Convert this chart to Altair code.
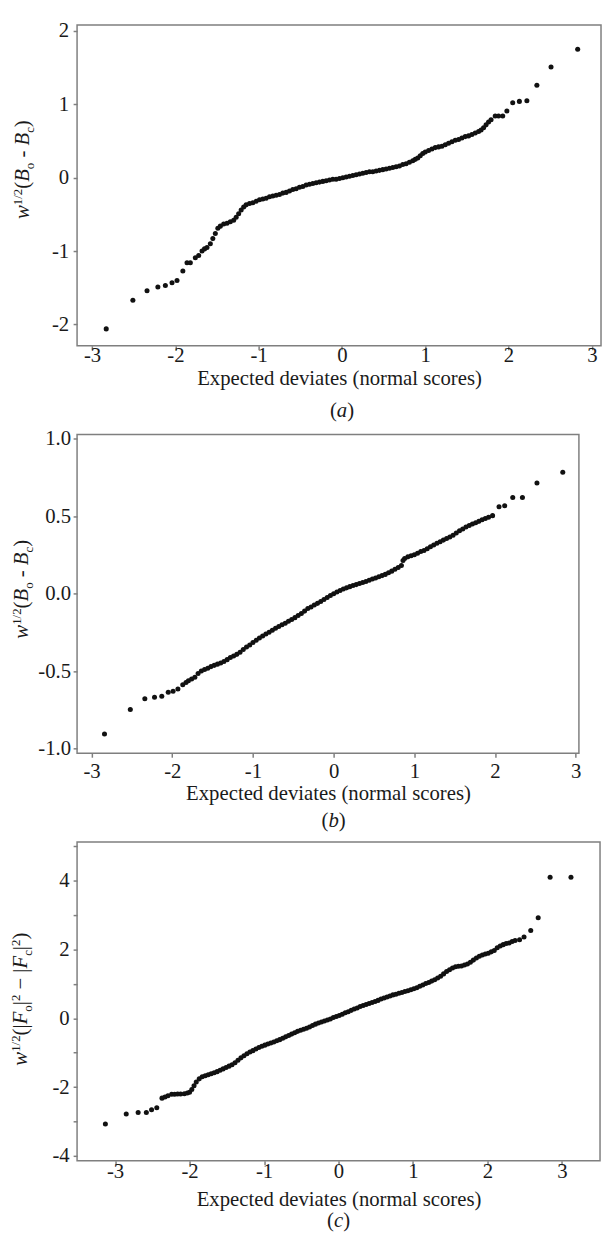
import altair as alt
import pandas as pd

FONT = "Liberation Serif"

# ---------------- data ----------------
A_X = [-2.83, -2.51, -2.34, -2.21, -2.12, -2.04, -1.98, -1.91, -1.86, -1.82,
       -1.76, -1.72, -1.68, -1.65, -1.62, -1.58, -1.55, -1.52, -1.49, -1.46,
       -1.42, -1.38, -1.34, -1.30, -1.27, -1.24, -1.21, -1.18, -1.15, -1.11,
       -1.07, -1.03, -0.99, -0.95, -0.91, -0.87, -0.83, -0.79, -0.75, -0.71,
       -0.67, -0.63, -0.59, -0.55, -0.51, -0.47, -0.43, -0.39, -0.35, -0.31,
       -0.27, -0.23, -0.19, -0.15, -0.11, -0.07, -0.03, 0.01, 0.05, 0.09,
       0.13, 0.17, 0.21, 0.25, 0.29, 0.33, 0.37, 0.41, 0.45, 0.49,
       0.53, 0.57, 0.61, 0.65, 0.69, 0.73, 0.77, 0.81, 0.85, 0.88,
       0.91, 0.94, 0.97, 1.00, 1.04, 1.08, 1.12, 1.16, 1.20, 1.24,
       1.28, 1.32, 1.36, 1.40, 1.44, 1.48, 1.52, 1.56, 1.60, 1.64,
       1.67, 1.70, 1.73, 1.76, 1.79, 1.84, 1.88, 1.93, 1.98, 2.05,
       2.13, 2.22, 2.34, 2.51, 2.83]
A_Y = [-2.06, -1.67, -1.54, -1.49, -1.47, -1.43, -1.40, -1.27, -1.16, -1.16,
       -1.09, -1.06, -1.00, -0.97, -0.95, -0.90, -0.83, -0.76, -0.69, -0.66,
       -0.63, -0.62, -0.60, -0.58, -0.54, -0.49, -0.44, -0.40, -0.37, -0.35,
       -0.34, -0.32, -0.30, -0.29, -0.28, -0.26, -0.25, -0.24, -0.23, -0.21,
       -0.20, -0.18, -0.16, -0.15, -0.13, -0.12, -0.10, -0.09, -0.08, -0.07,
       -0.06, -0.05, -0.04, -0.03, -0.02, -0.02, -0.01, 0.00, 0.01, 0.02,
       0.03, 0.04, 0.05, 0.06, 0.07, 0.08, 0.08, 0.09, 0.10, 0.11,
       0.12, 0.13, 0.14, 0.15, 0.16, 0.18, 0.19, 0.21, 0.23, 0.25,
       0.27, 0.30, 0.33, 0.35, 0.37, 0.39, 0.41, 0.42, 0.43, 0.45,
       0.47, 0.49, 0.51, 0.52, 0.54, 0.56, 0.57, 0.59, 0.61, 0.63,
       0.65, 0.68, 0.72, 0.76, 0.79, 0.84, 0.84, 0.84, 0.91, 1.02,
       1.04, 1.05, 1.26, 1.51, 1.75]

B_X = [-2.84, -2.52, -2.34, -2.22, -2.13, -2.05, -1.99, -1.93, -1.87, -1.83,
       -1.80, -1.76, -1.72, -1.68, -1.64, -1.60, -1.56, -1.52, -1.48, -1.44,
       -1.40, -1.36, -1.32, -1.28, -1.24, -1.20, -1.16, -1.12, -1.08, -1.04,
       -1.00, -0.96, -0.92, -0.88, -0.84, -0.80, -0.76, -0.72, -0.68, -0.64,
       -0.60, -0.56, -0.52, -0.48, -0.44, -0.40, -0.36, -0.32, -0.28, -0.24,
       -0.20, -0.16, -0.12, -0.08, -0.04, 0.00, 0.04, 0.08, 0.12, 0.16,
       0.20, 0.24, 0.28, 0.32, 0.36, 0.40, 0.44, 0.48, 0.52, 0.56,
       0.60, 0.64, 0.68, 0.72, 0.76, 0.80, 0.84, 0.86, 0.88, 0.92,
       0.96, 1.00, 1.04, 1.08, 1.12, 1.16, 1.20, 1.24, 1.28, 1.32,
       1.36, 1.40, 1.44, 1.48, 1.52, 1.56, 1.60, 1.64, 1.68, 1.72,
       1.76, 1.80, 1.84, 1.88, 1.92, 1.97, 2.05, 2.12, 2.22, 2.34,
       2.52, 2.84]
B_Y = [-0.905, -0.746, -0.678, -0.667, -0.661, -0.636, -0.629, -0.614, -0.587, -0.572,
       -0.561, -0.550, -0.538, -0.515, -0.498, -0.488, -0.481, -0.470, -0.462, -0.454,
       -0.446, -0.437, -0.425, -0.411, -0.401, -0.391, -0.378, -0.360, -0.343, -0.330,
       -0.314, -0.300, -0.285, -0.272, -0.260, -0.248, -0.236, -0.222, -0.211, -0.200,
       -0.190, -0.178, -0.166, -0.154, -0.140, -0.128, -0.112, -0.095, -0.085, -0.073,
       -0.062, -0.050, -0.037, -0.024, -0.011, 0.000, 0.012, 0.021, 0.030, 0.038,
       0.046, 0.053, 0.059, 0.066, 0.072, 0.079, 0.087, 0.095, 0.102, 0.110,
       0.117, 0.125, 0.135, 0.146, 0.158, 0.170, 0.182, 0.215, 0.228, 0.238,
       0.245, 0.252, 0.262, 0.272, 0.279, 0.290, 0.303, 0.314, 0.326, 0.336,
       0.346, 0.356, 0.366, 0.378, 0.392, 0.406, 0.418, 0.430, 0.441, 0.450,
       0.458, 0.467, 0.477, 0.485, 0.494, 0.504, 0.561, 0.568, 0.621, 0.621,
       0.714, 0.784]

C_X = [-3.13, -2.85, -2.69, -2.58, -2.51, -2.44, -2.37, -2.33, -2.29, -2.24,
       -2.20, -2.16, -2.12, -2.07, -2.03, -2.00, -1.97, -1.94, -1.91, -1.87,
       -1.83, -1.79, -1.75, -1.71, -1.67, -1.63, -1.59, -1.55, -1.51, -1.47,
       -1.43, -1.39, -1.35, -1.31, -1.27, -1.23, -1.19, -1.15, -1.11, -1.07,
       -1.03, -0.99, -0.95, -0.91, -0.87, -0.83, -0.79, -0.75, -0.71, -0.67,
       -0.63, -0.59, -0.55, -0.51, -0.47, -0.43, -0.39, -0.35, -0.31, -0.27,
       -0.23, -0.19, -0.15, -0.11, -0.07, -0.03, 0.01, 0.05, 0.09, 0.13,
       0.17, 0.21, 0.25, 0.29, 0.33, 0.37, 0.41, 0.45, 0.49, 0.53,
       0.57, 0.61, 0.65, 0.69, 0.73, 0.77, 0.81, 0.85, 0.89, 0.93,
       0.97, 1.01, 1.05, 1.09, 1.13, 1.17, 1.21, 1.25, 1.29, 1.33,
       1.37, 1.41, 1.45, 1.49, 1.53, 1.57, 1.61, 1.65, 1.69, 1.73,
       1.77, 1.81, 1.85, 1.89, 1.93, 1.97, 2.01, 2.05, 2.09, 2.13,
       2.17, 2.21, 2.25, 2.29, 2.33, 2.37, 2.43, 2.49, 2.58, 2.68,
       2.84, 3.12]
C_Y = [-3.07, -2.78, -2.74, -2.74, -2.66, -2.60, -2.32, -2.29, -2.25, -2.21,
       -2.21, -2.20, -2.20, -2.19, -2.17, -2.15, -2.07, -1.96, -1.85, -1.76,
       -1.70, -1.67, -1.64, -1.61, -1.58, -1.55, -1.51, -1.47, -1.43, -1.39,
       -1.35, -1.29, -1.22, -1.15, -1.09, -1.03, -0.98, -0.94, -0.89, -0.85,
       -0.81, -0.78, -0.75, -0.72, -0.69, -0.65, -0.62, -0.58, -0.54, -0.50,
       -0.46, -0.42, -0.38, -0.35, -0.32, -0.29, -0.25, -0.21, -0.17, -0.14,
       -0.11, -0.08, -0.05, -0.02, 0.02, 0.05, 0.08, 0.12, 0.16, 0.19,
       0.23, 0.27, 0.30, 0.34, 0.37, 0.40, 0.43, 0.46, 0.49, 0.52,
       0.56, 0.59, 0.62, 0.65, 0.68, 0.70, 0.73, 0.75, 0.78, 0.80,
       0.83, 0.86, 0.89, 0.93, 0.97, 1.01, 1.04, 1.08, 1.12, 1.17,
       1.22, 1.29, 1.36, 1.41, 1.46, 1.50, 1.51, 1.52, 1.55, 1.58,
       1.63, 1.69, 1.75, 1.80, 1.84, 1.87, 1.89, 1.93, 1.97, 2.05,
       2.10, 2.14, 2.17, 2.19, 2.23, 2.26, 2.28, 2.36, 2.55, 2.92,
       4.10, 4.10]

X_TICKS = [-3, -2, -1, 0, 1, 2, 3]
A_YTICKS = [-2, -1, 0, 1, 2]
B_YTICKS = [-1.0, -0.5, 0.0, 0.5, 1.0]
C_YTICKS = [-4, -3, -2, -1, 0, 1, 2, 3, 4, 5]
X_TITLE = "Expected deviates (normal scores)"

# y-axis titles as (text, italic, kind) pieces
YT_B = [("w", True, "n"), ("1/2", False, "sup"), ("(", False, "n"), ("B", True, "n"),
        ("o", False, "sub"), (" - ", False, "n"), ("B", True, "n"), ("c", False, "sub"),
        (")", False, "n")]
YT_F = [("w", True, "n"), ("1/2", False, "sup"), ("(|", False, "n"), ("F", True, "n"),
        ("o", False, "sub"), ("|", False, "n"), ("2", False, "sup"), (" \u2212 |", False, "n"),
        ("F", True, "n"), ("c", False, "sub"), ("|", False, "n"), ("2", False, "sup"),
        (")", False, "n")]

# ---------------- text helpers (Times metrics, per 1000 em) ----------------
REG = {"(": 333, ")": 333, "|": 200, " ": 250, "-": 333, "\u2212": 564, "1": 500,
       "2": 500, "/": 278, "o": 500, "c": 444}
ITA = {"w": 667, "B": 611, "F": 611, "a": 500, "b": 500, "c": 444}
SUP_SCALE = 0.62
ONE = pd.DataFrame({"k": [0]})
TXT = "#1a1a1a"
HYPHEN = "replace(datum.label, '\u2212', '-')"


def width_of(text, italic, size):
    table = ITA if italic else REG
    return sum(table.get(ch, 500) for ch in text) / 1000.0 * size


def piece_mark(text, italic, size, angle=0, dx=0):
    kw = dict(text=text, fontSize=size, font=FONT, align="left",
              baseline="alphabetic", color=TXT)
    if italic:
        kw["fontStyle"] = "italic"
    if angle:
        kw["angle"] = angle
    if dx:
        kw["dx"] = dx
    return alt.Chart(ONE).mark_text(**kw)


def rotated_title(pieces, base_x, center_y, size):
    sizes, widths = [], []
    for t, it, kind in pieces:
        s = size * (SUP_SCALE if kind != "n" else 1.0)
        sizes.append(s)
        widths.append(width_of(t, it, s))
    total = sum(widths)
    pos = center_y + total / 2.0
    layers = []
    for (t, it, kind), s, w in zip(pieces, sizes, widths):
        lead = len(t) - len(t.lstrip(" "))
        shift = {"n": 0.0, "sup": 0.36 * size, "sub": -0.22 * size}[kind]
        y = pos - lead * 0.25 * s
        layers.append(piece_mark(t.strip(), it, s, angle=270)
                      .encode(x=alt.value(base_x - shift), y=alt.value(y)))
        pos -= w
    return layers


def panel_label(letter, y_px, size):
    pieces = [("(", False), (letter, True), (")", False)]
    widths = [width_of(t, it, size) for t, it in pieces]
    start = -sum(widths) / 2.0
    layers = []
    for (t, it), w in zip(pieces, widths):
        layers.append(piece_mark(t, it, size, dx=start)
                      .encode(x=alt.datum(0), y=alt.value(y_px)))
        start += w
    return layers


def panel(xs, ys, xdom, ydom, w, h, yticks, yfmt, ylabexpr, title_pieces,
          tbase_x, tcenter_y, letter, letter_y, xlab_off, xtitle_y, ylabpad,
          anchor=None):
    df = pd.DataFrame({"x": xs, "y": ys})
    pts = alt.Chart(df).mark_circle(size=26, color="#111111", opacity=1).encode(
        x=alt.X("x:Q", scale=alt.Scale(domain=xdom, nice=False, zero=False),
                axis=alt.Axis(values=X_TICKS, format="d", labelExpr=HYPHEN,
                              title=X_TITLE, titleY=xtitle_y,
                              titleBaseline="alphabetic", labelBaseline="alphabetic",
                              labelPadding=xlab_off - 4)),
        y=alt.Y("y:Q", scale=alt.Scale(domain=ydom, nice=False, zero=False),
                axis=alt.Axis(values=yticks, format=yfmt, labelExpr=ylabexpr,
                              title=None, labelPadding=ylabpad)),
    )
    layers = [pts]
    layers += rotated_title(title_pieces, tbase_x, tcenter_y, 21)
    layers += panel_label(letter, letter_y, 21)
    if anchor is not None:
        # invisible box fixing the top-left extent of the whole figure
        ax, ay = anchor
        layers.append(alt.Chart(ONE).mark_rect(opacity=0).encode(
            x=alt.value(ax), x2=alt.value(ax + 1), y=alt.value(ay), y2=alt.value(ay + 1)))
    return alt.layer(*layers).properties(width=w, height=h)


LEFT = 77.0  # common left edge of the three frames
TOP = 16.0   # top edge of the first frame

pa = panel(A_X, A_Y, [-3.18, 3.11], [-2.29, 2.08], 531, 325, A_YTICKS, "d", HYPHEN,
           YT_B, 28.3 - LEFT, 146.5, "a", 325 + 72.3, 16.0, 39.3, 4.5,
           anchor=(8 - LEFT, 8 - TOP))
pb = panel(B_X, B_Y, [-3.18, 3.04], [-1.029, 1.027], 508.6, 323, B_YTICKS, ".1f", HYPHEN,
           YT_B, 27.3 - LEFT, 156.8, "b", 323 + 74.7, 25.0, 46.7, 2.5)
pc = panel(C_X, C_Y, [-3.51, 3.51], [-4.14, 5.12], 530, 323, C_YTICKS, "d",
           "abs(datum.value) % 2 == 0 ? " + HYPHEN + " : ''",
           YT_F, 26.7 - LEFT, 159.2, "c", 323 + 67.5, 16.6, 45.5, 4)

chart = alt.vconcat(
    pa, pb, pc,
    spacing=90, bounds="flush",
).properties(
    padding={"left": 0, "top": 0, "right": 0, "bottom": 0}
).configure_view(
    stroke="#7f7f7f", strokeWidth=1.5
).configure_axis(
    domain=False, grid=False, tickColor="#7f7f7f", tickWidth=1.5, tickSize=4,
    labelFont=FONT, labelFontSize=21, labelColor=TXT, labelFlush=False,
    titleFont=FONT, titleFontSize=21, titleFontWeight="normal", titleColor=TXT,
)

chart.save("out.html", embed_options={"renderer": "svg", "actions": False})
